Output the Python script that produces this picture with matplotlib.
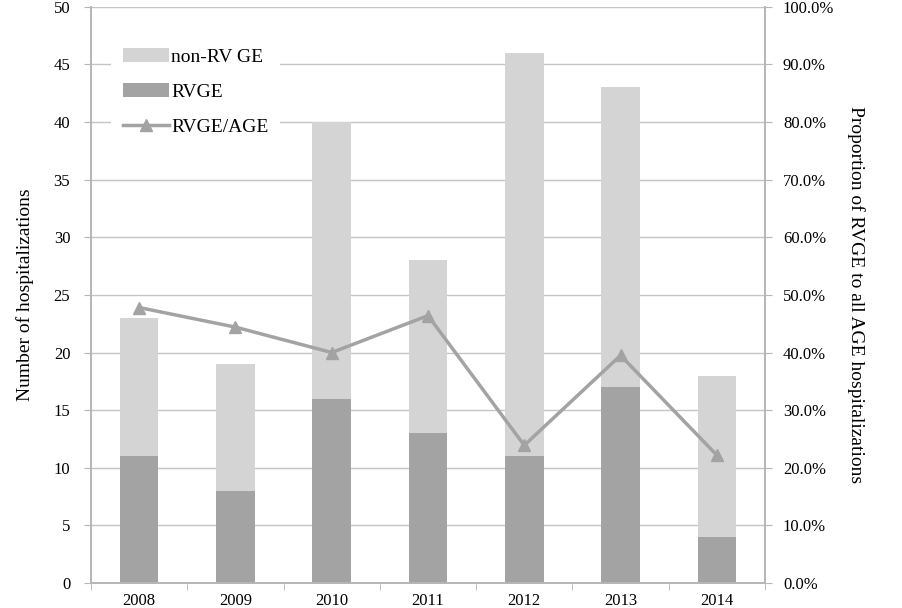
import matplotlib
matplotlib.use("Agg")
import matplotlib.pyplot as plt
import numpy as np
from matplotlib.ticker import FuncFormatter

years = ["2008", "2009", "2010", "2011", "2012", "2013", "2014"]
rvge = [11, 8, 16, 13, 11, 17, 4]
total = [23, 19, 40, 28, 46, 43, 18]
non_rv = [t - r for t, r in zip(total, rvge)]
ratio = [47.8, 44.4, 40.0, 46.4, 23.9, 39.5, 22.2]

plt.rcParams["font.family"] = ["Liberation Serif", "DejaVu Serif"]
plt.rcParams["font.size"] = 12

LIGHT = "#d4d4d4"
DARK = "#a3a3a3"
AXIS = "#b5b5b5"

fig = plt.figure(figsize=(9.02, 6.08), dpi=100)
ax = fig.add_axes([0.101, 0.041, 0.747, 0.948])
ax2 = ax.twinx()

x = np.arange(len(years))
ax.bar(x, rvge, width=0.4, color=DARK, label="RVGE", zorder=2)
ax.bar(x, non_rv, width=0.4, bottom=rvge, color=LIGHT, label="non-RV GE", zorder=2)
ax2.plot(x, ratio, color=DARK, lw=2.5, marker="^", ms=8, label="RVGE/AGE")

ax.set_xlim(-0.5, len(years) - 0.5)
ax.set_ylim(0, 50)
ax.set_yticks(range(0, 51, 5))
ax2.set_ylim(0, 100)
ax2.set_yticks(range(0, 101, 10))
ax2.yaxis.set_major_formatter(FuncFormatter(lambda v, p: f"{v:.1f}%"))

ax.set_xticks(x)
ax.set_xticklabels(years)
ax.set_xticks(np.arange(-0.5, len(years), 1), minor=True)
ax.tick_params(axis="x", which="major", length=0, pad=7, labelsize=12)
ax.tick_params(axis="x", which="minor", length=5, color=AXIS)
ax.tick_params(axis="y", length=5, color=AXIS, pad=10, labelsize=12)
ax2.tick_params(axis="y", length=5, color=AXIS, pad=8, labelsize=12)

ax.yaxis.grid(True, color="#c4c4c4", lw=1)
ax.set_axisbelow(True)
for a in (ax, ax2):
    a.spines["top"].set_visible(False)
    for s in ("left", "right", "bottom"):
        a.spines[s].set_color(AXIS)
        a.spines[s].set_linewidth(1.2)

ax.set_ylabel("Number of hospitalizations", fontsize=14, labelpad=14)
ax2.set_ylabel("Proportion of RVGE to all AGE hospitalizations", fontsize=14,
               rotation=270, labelpad=22)

h1, l1 = ax.get_legend_handles_labels()
h2, l2 = ax2.get_legend_handles_labels()
handles = [h1[1], h1[0], h2[0]]
labels = [l1[1], l1[0], l2[0]]
leg = ax2.legend(handles, labels, loc="upper left", bbox_to_anchor=(0.015, 0.965),
                 frameon=True, facecolor="white", edgecolor="none", framealpha=1,
                 fontsize=14, handlelength=2.4, handletextpad=0.1,
                 labelspacing=0.9, fancybox=False, borderpad=0.6)

fig.savefig("out.png", dpi=100)
